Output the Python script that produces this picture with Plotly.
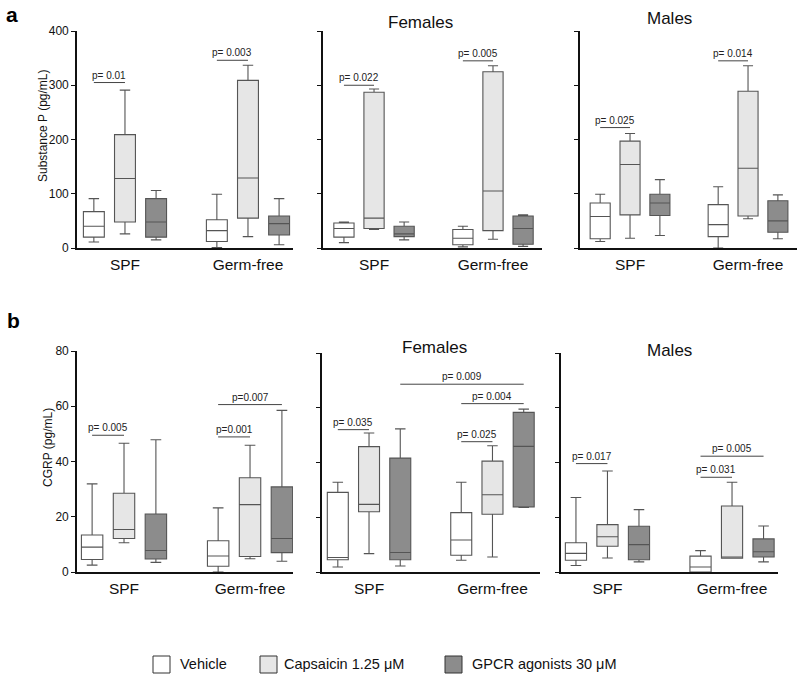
import plotly.graph_objects as go

# ---------------- data ----------------
groups = ["SPF", "Germ-free"]
series_names = ["Vehicle", "Capsaicin 1.25 μM", "GPCR agonists 30 μM"]
series_fills = ["#ffffff", "#e6e6e6", "#8c8c8c"]

# five-number summaries [min, q1, median, q3, max]; one per group (SPF, Germ-free)
sp_all_vehicle = [[11, 20, 40, 67, 91], [1, 12, 32, 52, 99]]
sp_all_capsaicin = [[26, 48, 128, 209, 291], [21, 55, 129, 309, 337]]
sp_all_gpcr = [[15, 20, 48, 91, 106], [6, 24, 45, 59, 91]]

sp_fem_vehicle = [[10, 20, 36, 46, 48], [2, 6, 18, 34, 40]]
sp_fem_capsaicin = [[34, 36, 55, 287, 293], [16, 32, 105, 325, 336]]
sp_fem_gpcr = [[15, 21, 26, 40, 48], [3, 7, 36, 59, 61]]

sp_male_vehicle = [[12, 17, 58, 83, 99], [0, 21, 43, 80, 113]]
sp_male_capsaicin = [[18, 61, 154, 197, 211], [54, 59, 147, 289, 336]]
sp_male_gpcr = [[23, 60, 83, 99, 126], [17, 29, 50, 87, 98]]

cgrp_all_vehicle = [[2.5, 4.5, 9.0, 13.4, 31.9], [0, 2.1, 5.8, 11.3, 23.2]]
cgrp_all_capsaicin = [[10.6, 12.1, 15.4, 28.5, 46.6], [4.8, 5.6, 24.4, 34.1, 45.9]]
cgrp_all_gpcr = [[3.5, 4.7, 7.8, 21.0, 47.9], [3.9, 7.0, 12.1, 30.8, 58.5]]

cgrp_fem_vehicle = [[1.8, 4.5, 5.3, 29.1, 32.8], [4.3, 6.1, 11.7, 21.7, 32.8]]
cgrp_fem_capsaicin = [[6.7, 22.0, 24.7, 45.8, 50.8], [5.5, 21.1, 28.2, 40.5, 46.1]]
cgrp_fem_gpcr = [[2.2, 4.5, 7.1, 41.6, 52.3], [23.6, 23.8, 45.9, 58.3, 59.5]]

cgrp_male_vehicle = [[2.4, 4.3, 6.8, 10.7, 27.2], [0, 0, 1.8, 5.8, 7.8]]
cgrp_male_capsaicin = [[5.1, 9.4, 12.9, 17.3, 36.9], [5.0, 5.0, 5.5, 24.1, 32.8]]
cgrp_male_gpcr = [[3.7, 4.5, 10.0, 16.7, 22.8], [3.7, 5.5, 7.4, 12.1, 16.8]]

# comparisons: [group_from, series_from, group_to, series_to, bracket value, label]
p_sp_all = [[0, 0, 0, 1, 305, "p= 0.01"], [1, 0, 1, 1, 346, "p= 0.003"]]
p_sp_fem = [[0, 0, 0, 1, 300, "p= 0.022"], [1, 0, 1, 1, 345, "p= 0.005"]]
p_sp_male = [[0, 0, 0, 1, 222, "p= 0.025"], [1, 0, 1, 1, 345, "p= 0.014"]]
p_cgrp_all = [[0, 0, 0, 1, 49.5, "p= 0.005"], [1, 0, 1, 1, 48.9, "p=0.001"],
              [1, 0, 1, 2, 60.6, "p=0.007"]]
p_cgrp_fem = [[0, 0, 0, 1, 52.0, "p= 0.035"], [0, 2, 1, 2, 68.6, "p= 0.009"],
              [1, 0, 1, 2, 61.5, "p= 0.004"], [1, 0, 1, 1, 47.6, "p= 0.025"]]
p_cgrp_male = [[0, 0, 0, 1, 39.6, "p= 0.017"], [1, 0, 1, 2, 42.3, "p= 0.005"],
               [1, 0, 1, 1, 34.6, "p= 0.031"]]

sp_ticks = [0, 100, 200, 300, 400]
cgrp_ticks = [0, 20, 40, 60, 80]

# ---------------- layout helpers ----------------
W, H = 800, 676
FONT = "Liberation Sans, Arial, Helvetica, sans-serif"
AX = "#111111"
BOXLINE = "#555555"


def px(x):
    return x / W


def py(y):
    return 1 - y / H


panels = [
    dict(data=[sp_all_vehicle, sp_all_capsaicin, sp_all_gpcr], p=p_sp_all, ticks=sp_ticks,
         xd=(77, 293), yd=(248, 31), xr=[-0.39, 1.366], labels=True, title=None),
    dict(data=[sp_fem_vehicle, sp_fem_capsaicin, sp_fem_gpcr], p=p_sp_fem, ticks=sp_ticks,
         xd=(323, 542), yd=(248, 31), xr=[-0.429, 1.412], labels=False,
         title=("Females", 420, 22)),
    dict(data=[sp_male_vehicle, sp_male_capsaicin, sp_male_gpcr], p=p_sp_male, ticks=sp_ticks,
         xd=(580, 797), yd=(248, 31), xr=[-0.424, 1.415], labels=False,
         title=("Males", 669, 19)),
    dict(data=[cgrp_all_vehicle, cgrp_all_capsaicin, cgrp_all_gpcr], p=p_cgrp_all,
         ticks=cgrp_ticks, xd=(77, 293), yd=(572, 351), xr=[-0.373, 1.341], labels=True,
         title=None),
    dict(data=[cgrp_fem_vehicle, cgrp_fem_capsaicin, cgrp_fem_gpcr], p=p_cgrp_fem,
         ticks=cgrp_ticks, xd=(322, 540), yd=(572, 353), xr=[-0.381, 1.385], labels=False,
         title=("Females", 434, 347)),
    dict(data=[cgrp_male_vehicle, cgrp_male_capsaicin, cgrp_male_gpcr], p=p_cgrp_male,
         ticks=cgrp_ticks, xd=(561, 778), yd=(572, 353), xr=[-0.373, 1.369], labels=False,
         title=("Males", 669, 350)),
]

OFFSET = 0.253
BOX_W = 0.17

fig = go.Figure()
shapes = []
annotations = []
layout_axes = {}

for pi, pan in enumerate(panels):
    sfx = "" if pi == 0 else str(pi + 1)
    xa, ya = "x" + sfx, "y" + sfx
    for si, (name, fill, stats) in enumerate(zip(series_names, series_fills, pan["data"])):
        xs = [g + (si - 1) * OFFSET for g in range(len(groups))]
        fig.add_trace(go.Box(
            x=xs,
            lowerfence=[s[0] for s in stats],
            q1=[s[1] for s in stats],
            median=[s[2] for s in stats],
            q3=[s[3] for s in stats],
            upperfence=[s[4] for s in stats],
            width=BOX_W, whiskerwidth=0.5,
            fillcolor=fill, line=dict(color=BOXLINE, width=1.1),
            boxpoints=False, name=name, showlegend=False,
            xaxis=xa, yaxis=ya, hoverinfo="skip",
        ))
    # significance brackets
    for g0, s0, g1, s1, yv, lab in pan["p"]:
        x0 = g0 + (s0 - 1) * OFFSET
        x1 = g1 + (s1 - 1) * OFFSET
        shapes.append(dict(type="line", xref=xa, yref=ya, x0=x0, x1=x1, y0=yv, y1=yv,
                           line=dict(color="#444444", width=1)))
        annotations.append(dict(xref=xa, yref=ya, x=(x0 + x1) / 2, y=yv, text=lab,
                                showarrow=False, yanchor="bottom", xanchor="center",
                                font=dict(size=10, color="#222222", family=FONT),
                                borderpad=0, yshift=1))
    if pan["title"]:
        t, tx, ty = pan["title"]
        annotations.append(dict(xref="paper", yref="paper", x=px(tx), y=py(ty), text=t,
                                showarrow=False, xanchor="center", yanchor="middle",
                                font=dict(size=17, color="#111111", family=FONT)))

    layout_axes["xaxis" + sfx] = dict(
        domain=[px(pan["xd"][0]), px(pan["xd"][1])], range=pan["xr"],
        tickmode="array", tickvals=list(range(len(groups))), ticktext=groups,
        showline=True, linecolor=AX, linewidth=1.6, ticks="", showgrid=False,
        zeroline=False, anchor=ya, tickfont=dict(size=15.5, color="#111111", family=FONT),
        ticklabelstandoff=2, fixedrange=True, automargin=False,
    )
    layout_axes["yaxis" + sfx] = dict(
        domain=[py(pan["yd"][0]), py(pan["yd"][1])],
        range=[pan["ticks"][0], pan["ticks"][-1]],
        tickmode="array", tickvals=pan["ticks"], showticklabels=pan["labels"],
        showline=True, linecolor=AX, linewidth=1.6, ticks="outside", ticklen=4,
        tickwidth=1.2, tickcolor=AX, showgrid=False, zeroline=False, anchor=xa,
        tickfont=dict(size=12, color="#111111", family=FONT), fixedrange=True,
        automargin=False,
    )

# y-axis titles and panel letters
annotations += [
    dict(xref="paper", yref="paper", x=px(43), y=py(126), text="Substance P (pg/mL)",
         textangle=-90, showarrow=False, xanchor="center", yanchor="middle",
         font=dict(size=12, color="#111111", family=FONT)),
    dict(xref="paper", yref="paper", x=px(48), y=py(448), text="CGRP (pg/mL)",
         textangle=-90, showarrow=False, xanchor="center", yanchor="middle",
         font=dict(size=12, color="#111111", family=FONT)),
    dict(xref="paper", yref="paper", x=px(12), y=py(15), text="<b>a</b>",
         showarrow=False, xanchor="center", yanchor="middle",
         font=dict(size=21, color="#000000", family=FONT)),
    dict(xref="paper", yref="paper", x=px(13), y=py(320), text="<b>b</b>",
         showarrow=False, xanchor="center", yanchor="middle",
         font=dict(size=21, color="#000000", family=FONT)),
]

# legend (drawn from the series lists)
legend_sq_x = [153, 260, 445]
legend_txt_x = [178, 282, 470]
for name, fill, sx, tx in zip(series_names, series_fills, legend_sq_x, legend_txt_x):
    shapes.append(dict(type="rect", xref="paper", yref="paper", x0=px(sx), x1=px(sx + 17),
                       y0=py(673), y1=py(656), fillcolor=fill,
                       line=dict(color="#333333", width=1)))
    annotations.append(dict(xref="paper", yref="paper", x=px(tx), y=py(664), text=name,
                            showarrow=False, xanchor="left", yanchor="middle",
                            font=dict(size=14.5, color="#111111", family=FONT)))

fig.update_layout(
    width=W, height=H, autosize=False,
    margin=dict(l=0, r=0, t=0, b=0, pad=0, autoexpand=False),
    paper_bgcolor="white", plot_bgcolor="white", showlegend=False,
    boxmode="overlay", shapes=shapes, annotations=annotations,
    font=dict(family=FONT, color="#111111"),
    **layout_axes,
)

fig.write_html(
    "out.html",
    config={"displayModeBar": False, "responsive": False},
    post_script=(
        "document.documentElement.style.margin='0';"
        "document.documentElement.style.padding='0';"
        "document.documentElement.style.overflow='hidden';"
        "document.body.style.margin='0';"
        "document.body.style.padding='0';"
        "document.body.style.overflow='hidden';"
    ),
)
